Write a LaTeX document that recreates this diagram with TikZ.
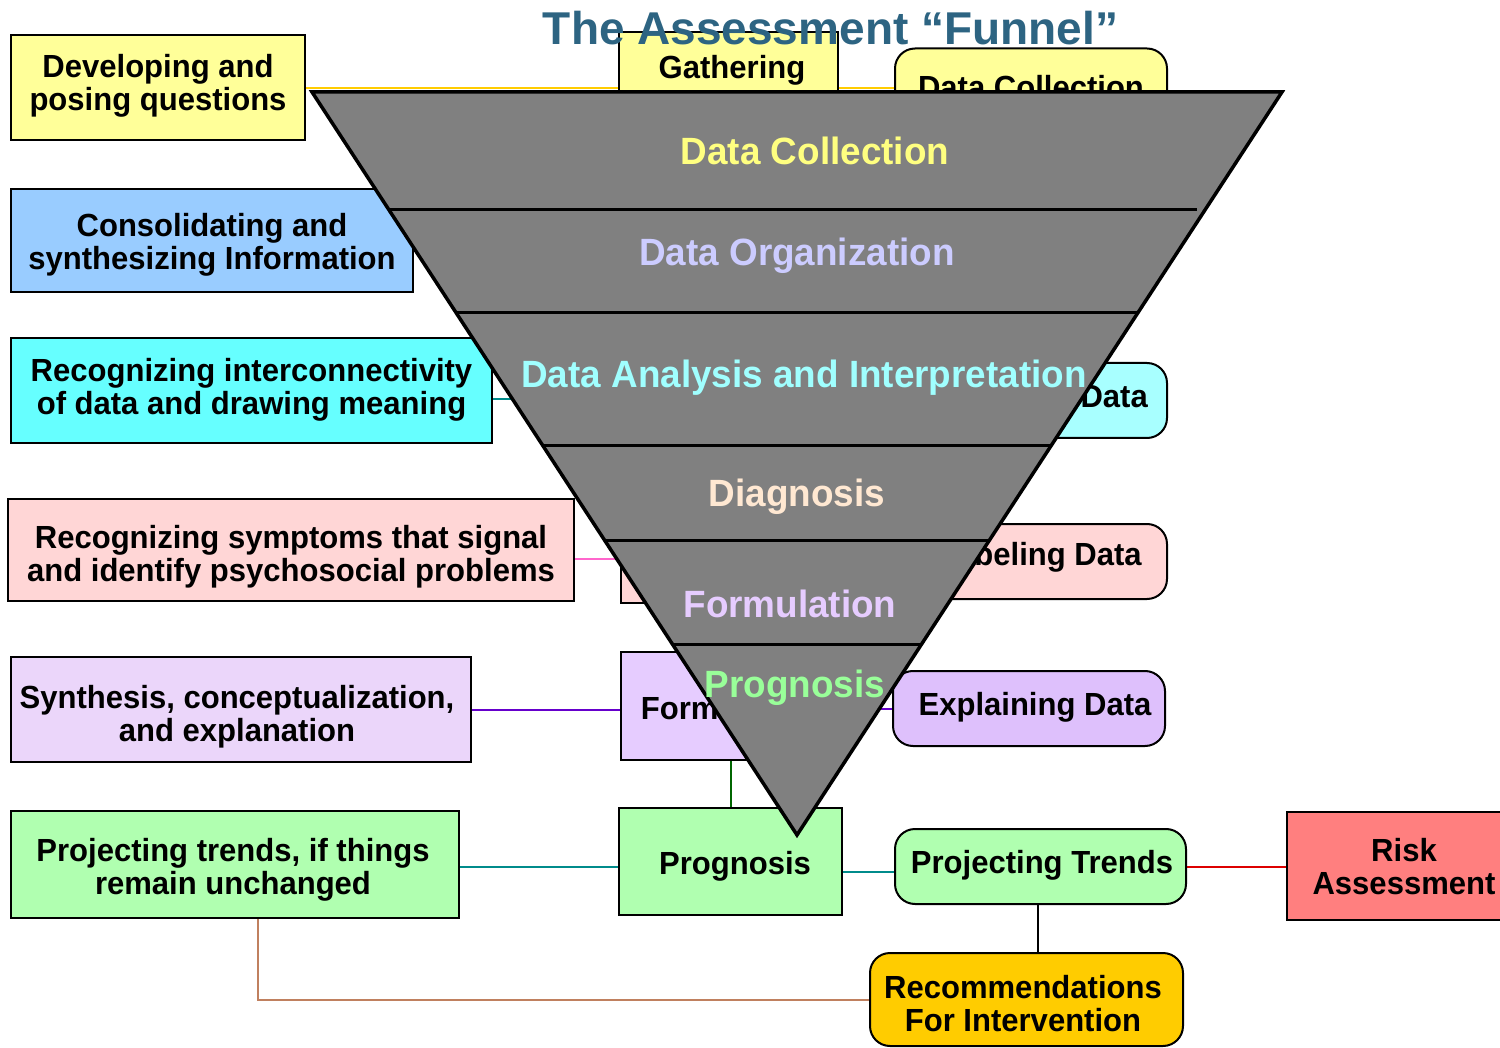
\documentclass[tikz,border=0pt]{standalone}
\usepackage{fontspec}
\setmainfont{Liberation Sans}
\newfontfamily\boxfont{Liberation Sans}[FakeStretch=0.97]
\usetikzlibrary{calc}

\definecolor{titleblue}{HTML}{2D6482}
\definecolor{ylw}{HTML}{FFFF99}
\definecolor{lblue}{HTML}{99CCFF}
\definecolor{cyn}{HTML}{66FFFF}
\definecolor{lcyn}{HTML}{A8FFFF}
\definecolor{pnk}{HTML}{FFD6D6}
\definecolor{lav}{HTML}{EBD6FA}
\definecolor{lavmid}{HTML}{E6CCFF}
\definecolor{lavr}{HTML}{DEC0FC}
\definecolor{grn}{HTML}{B0FFB0}
\definecolor{rd}{HTML}{FF7F7F}
\definecolor{orng}{HTML}{FFCC00}
\definecolor{funnelgray}{HTML}{808080}
\definecolor{goldline}{HTML}{FFCC00}
\definecolor{tealline}{HTML}{008B8B}
\definecolor{pinkline}{HTML}{FF66CC}
\definecolor{purpline}{HTML}{6600CC}
\definecolor{dgreenline}{HTML}{006600}
\definecolor{redline}{HTML}{DD0000}
\definecolor{brownline}{HTML}{C0805F}
\definecolor{fcoll}{HTML}{FFFF80}
\definecolor{forg}{HTML}{CCCCFF}
\definecolor{fanal}{HTML}{A0FFFF}
\definecolor{fdiag}{HTML}{FFE8D2}
\definecolor{fform}{HTML}{E6CCFF}
\definecolor{fprog}{HTML}{99FF99}

\pgfdeclarelayer{paper}
\pgfdeclarelayer{links}
\pgfsetlayers{paper,links,main}

\tikzset{
  box/.style={draw=black, line width=2pt, inner sep=0pt, align=center,
    font=\boxfont\bfseries\fontsize{32}{33}\selectfont, text=black},
  rbox/.style={box, rounded corners=20pt},
  txt/.style={inner sep=0pt, align=center,
    font=\boxfont\bfseries\fontsize{32}{33}\selectfont, text=black},
  link/.style={line width=2pt},
  funnellabel/.style={inner sep=0pt, text height=27pt, text depth=0pt,
    font=\boxfont\bfseries\fontsize{38}{40}\selectfont},
}

\begin{document}
\begin{tikzpicture}[x=1pt,y=-1pt]
\useasboundingbox (0,0) rectangle (1500,1048);
\begin{pgfonlayer}{paper}
  \fill[white] (0,0) rectangle (1500,1048);
\end{pgfonlayer}

% ---------- left column ----------
\node[box, fill=ylw,   minimum width=294pt, minimum height=105pt] (dev)   at (158,87.5) {};
\node[txt] (devtext) at (158,86) {Developing and\\posing questions};
\node[box, fill=lblue, minimum width=402pt, minimum height=103pt] (cons)  at (212,240.5) {};
\node[txt] (constext) at (212,244.5) {Consolidating and\\synthesizing Information};
\node[box, fill=cyn,   minimum width=481pt, minimum height=105pt] (recog) at (251.5,390.5) {};
\node[txt] (recogtext) at (251.5,389.5) {Recognizing interconnectivity\\of data and drawing meaning};
\node[box, fill=pnk,   minimum width=566pt, minimum height=102pt] (symp)  at (291,550) {};
\node[txt] (symptext) at (291,557) {Recognizing symptoms that signal\\and identify psychosocial problems};
\node[box, fill=lav,   minimum width=460pt, minimum height=105pt] (synth) at (241,709.5) {};
\node[txt] (synthtext) at (237,717) {Synthesis, conceptualization,\\and explanation};
\node[box, fill=grn,   minimum width=448pt, minimum height=107pt] (proj)  at (235,864.5) {};
\node[txt] (projtext) at (233,869.5) {Projecting trends, if things\\remain unchanged};

% ---------- middle column ----------
\node[box, fill=ylw,    minimum width=219pt, minimum height=107pt] (gath)    at (728.5,86) {};
\node[txt] (gathtext) at (732,70) {Gathering};
\node[box, fill=pnk,    minimum width=219pt, minimum height=91pt]  (pinkmid) at (730.5,557.5) {};
\node[box, fill=lavmid, minimum width=219pt, minimum height=108pt] (form)    at (730.5,706) {};
\node[txt] (formtext) at (730.5,708) {Formulation};
\node[box, fill=grn,    minimum width=223pt, minimum height=107pt] (prog)    at (730.5,861.5) {};
\node[txt] (progtext) at (735,866) {Prognosis};
\coordinate (recogend) at (621,399);

% ---------- right column ----------
\node[rbox, fill=ylw,  minimum width=272pt, minimum height=75pt] (dcol)   at (1031,86) {};
\node[txt] (dcoltext) at (1031,87) {Data Collection};
\node[rbox, fill=lcyn, minimum width=272pt, minimum height=75pt] (cyanr)  at (1031,400.5) {};
\node[txt, anchor=east] (cyantext) at (1148,397) {Data};
\node[rbox, fill=pnk,  minimum width=272pt, minimum height=75pt] (pinkr)  at (1031,561.5) {};
\node[txt] (pinktext) at (1040,557) {Labeling Data};
\node[rbox, fill=lavr, minimum width=272pt, minimum height=75pt] (expl)   at (1029,708.5) {};
\node[txt] (expltext) at (1035,707) {Explaining Data};
\node[rbox, fill=grn,  minimum width=291pt, minimum height=75pt] (trends) at (1040.5,866.5) {};
\node[txt] (trendstext) at (1042,865) {Projecting Trends};
\node[rbox, fill=orng, minimum width=313pt, minimum height=93pt] (recs)   at (1026.5,999.5) {};
\node[txt] (recstext) at (1023,1004) {Recommendations\\For Intervention};
\node[box, fill=rd,    minimum width=228pt, minimum height=108pt] (risk)  at (1401,866) {};
\node[txt] (risktext) at (1404,867) {Risk\\Assessment};

% ---------- connectors (kept behind the boxes) ----------
\begin{pgfonlayer}{links}
  \draw[link, goldline]   (dev.east |- 0,88) -- (gath.west |- 0,88);
  \draw[link, goldline]   (gath.east |- 0,88) -- (dcol.west |- 0,88);
  \draw[link, tealline]   (recog.east |- recogend) -- (recogend);
  \draw[link, pinkline]   (symp.east |- 0,559) -- (pinkmid.west |- 0,559);
  \draw[link, purpline]   (synth.east) -- (synth.east -| form.west);
  \draw[link, purpline]   (form.east |- expl.west) -- (expl.west);
  \draw[link, dgreenline] (form.south) -- (prog.north);
  \draw[link, tealline]   (proj.east |- 0,867) -- (prog.west |- 0,867);
  \draw[link, tealline]   (prog.east |- 0,872) -- (trends.west |- 0,872);
  \draw[link, redline]    (trends.east) -- (trends.east -| risk.west);
  \draw[link, black]      ([xshift=-3pt]trends.south) -- ([xshift=-3pt]trends.south |- recs.north);
  \draw[link, brownline]  ([xshift=23pt]proj.south) |- (recs.west);
\end{pgfonlayer}

% ---------- the funnel ----------
\coordinate (ftl) at (312,92);
\coordinate (ftr) at (1282,92);
\coordinate (fap) at (797,835);
\draw[line width=3.5pt, fill=funnelgray, line join=miter] (ftl) -- (ftr) -- (fap) -- cycle;
\foreach \t in {0.2974,0.4764,0.6030,0.7430}
  \draw[line width=3pt] ($(ftl)!\t!(fap)$) -- ($(ftr)!\t!(fap)$);
\draw[line width=3pt] ($(ftl)!0.1575!(fap)$) -- ($($(ftr)!0.1575!(fap)$)+(-9,0)$);

\node[funnellabel, text=fcoll] (lcoll) at (815,151)   {Data Collection};
\node[funnellabel, text=forg]  (lorg)  at (797,252)   {Data Organization};
\node[funnellabel, text=fanal] (lanal) at (804,374)   {Data Analysis and Interpretation};
\node[funnellabel, text=fdiag] (ldiag) at (797,493)   {Diagnosis};
\node[funnellabel, text=fform] (lform) at (790,604)   {Formulation};
\node[funnellabel, text=fprog] (lprog) at (795,684)   {Prognosis};

% ---------- title ----------
\node[inner sep=0pt, anchor=base, text=titleblue,
      font=\bfseries\fontsize{46}{50}\selectfont] (title) at (830.5,45) {The Assessment “Funnel”};
\end{tikzpicture}
\end{document}
